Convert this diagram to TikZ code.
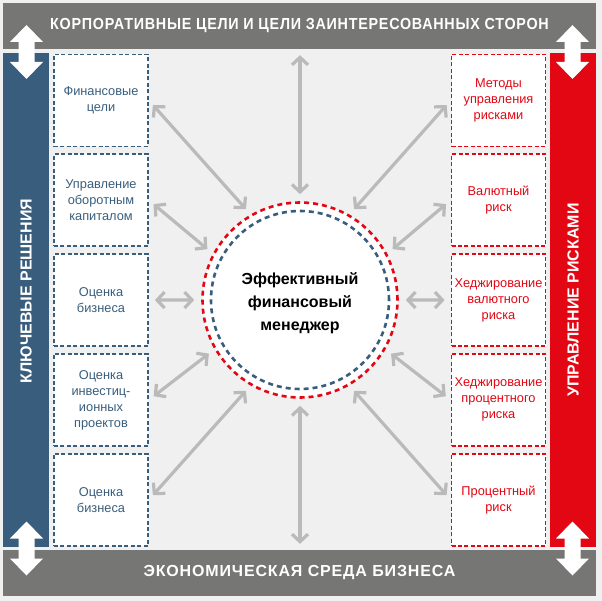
\documentclass[tikz,border=0pt]{standalone}
\usepackage{fontspec}
\usepackage{graphicx}
\setmainfont{Liberation Sans}
\usetikzlibrary{arrows.meta, positioning, calc}
\definecolor{canvas}{RGB}{240,240,240}
\definecolor{slate}{RGB}{118,118,116}
\definecolor{navy}{RGB}{57,94,125}
\definecolor{signal}{RGB}{227,6,19}
\definecolor{link}{RGB}{186,186,186}

\begin{document}
\begin{tikzpicture}[x=1pt, y=-1pt,
    bar/.style={fill=slate, text=white, font=\bfseries\fontsize{16}{18}\selectfont\addfontfeatures{LetterSpace=5.3}, minimum width=593pt, minimum height=46pt, inner sep=0pt},
    side/.style={rotate=90, text=white, font=\bfseries\fontsize{16}{18}\selectfont, minimum width=494pt, minimum height=46pt, inner sep=0pt},
    box/.style={draw, fill=white, dash pattern=on 4pt off 2.4pt, line width=1.8pt, minimum width=94pt, minimum height=92pt, align=center, font=\fontsize{12.8}{16}\selectfont, inner sep=0pt},
    keybox/.style={box, draw=navy, text=navy},
    riskbox/.style={box, draw=signal, text=signal},
    ring/.style={dash pattern=on 5pt off 4pt, line width=2.6pt},
    arrow/.style={{Straight Barb[length=7.5pt, width=16pt]}-{Straight Barb[length=7.5pt, width=16pt]}, line width=3.2pt, link, shorten <=6pt, shorten >=7pt},
    node distance=6pt,
]
    \fill[canvas] (0,0) rectangle (602,601);
    \useasboundingbox (0,0) rectangle (602,601);

    \node[bar] (goals) at (299.5,26) {\scalebox{0.895}[1]{КОРПОРАТИВНЫЕ ЦЕЛИ И ЦЕЛИ ЗАИНТЕРЕСОВАННЫХ СТОРОН}};
    \node[bar] (economy) at (299.5,573) {ЭКОНОМИЧЕСКАЯ СРЕДА БИЗНЕСА};
    \node[side, fill=navy] (keys) at (26,300) {\hspace*{18pt}КЛЮЧЕВЫЕ РЕШЕНИЯ};
    \node[side, fill=signal] (risks) at (573,300) {УПРАВЛЕНИЕ РИСКАМИ};

    \node[keybox] (k1) at (101,100.5) {Финансовые\\цели};
    \node[keybox, below=of k1] (k2) {Управление\\оборотным\\капиталом};
    \node[keybox, below=of k2] (k3) {Оценка\\бизнеса};
    \node[keybox, below=of k3] (k4) {Оценка\\инвестиц-\\ионных\\проектов};
    \node[keybox, below=of k4] (k5) {Оценка\\бизнеса};

    \node[riskbox] (r1) at (498.5,100.5) {Методы\\управления\\рисками};
    \node[riskbox, below=of r1] (r2) {Валютный\\риск};
    \node[riskbox, below=of r2] (r3) {Хеджирование\\валютного\\риска};
    \node[riskbox, below=of r3] (r4) {Хеджирование\\процентного\\риска};
    \node[riskbox, below=of r4] (r5) {Процентный\\риск};

    \node[circle, fill=white, draw=signal, ring, minimum size=195pt, align=center, text height=64pt, font=\bfseries\fontsize{16}{23}\selectfont] (mgr) at (300,300) {Эффективный\\финансовый\\менеджер};
    \draw[navy, ring] (mgr.center) circle[radius=89pt];

    \draw[arrow] (goals.south -| mgr) -- (mgr.north);
    \draw[arrow] (economy.north -| mgr) -- (mgr.south);
    \draw[arrow] (k1.east) -- (mgr.120);
    \draw[arrow] (k2.east) -- (mgr.152);
    \draw[arrow] (k3.east) -- (mgr.west);
    \draw[arrow] (k4.east) -- (mgr.210);
    \draw[arrow] (k5.east) -- (mgr.240);
    \draw[arrow] (r1.west) -- (mgr.60);
    \draw[arrow] (r2.west) -- (mgr.28);
    \draw[arrow] (r3.west) -- (mgr.east);
    \draw[arrow] (r4.west) -- (mgr.330);
    \draw[arrow] (r5.west) -- (mgr.300);

    \foreach \x/\y in {26.5/52, 572.5/52, 26.5/548.5, 572.5/548.5}
        \fill[white] (\x,\y) ++(0,-27) -- ++(16.5,17) -- ++(-8.5,0) -- ++(0,20) -- ++(8.5,0) -- ++(-16.5,17)
            -- ++(-16.5,-17) -- ++(8.5,0) -- ++(0,-20) -- ++(-8.5,0) -- cycle;
\end{tikzpicture}
\end{document}
